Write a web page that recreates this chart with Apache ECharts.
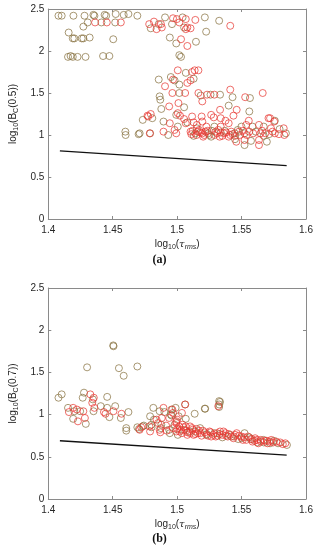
<!DOCTYPE html>
<html><head><meta charset="utf-8">
<script src="https://cdn.jsdelivr.net/npm/echarts@6/dist/echarts.min.js"></script>
<style>html,body{margin:0;padding:0;background:#fff}#c{width:319px;height:550px}</style>
</head><body><div id="c"></div>
<script>
// ---- data (a): log10(tau_rms) vs log10(Bc(0.5))
var topOlive = [
[1.4079,2.42],[1.4104,2.42],[1.4195,2.42],[1.4281,2.42],[1.4350,2.43],[1.4358,2.42],[1.4437,2.43],[1.4449,2.42],[1.4523,2.44],[1.4585,2.43],[1.4622,2.44],[1.4691,2.42],
[1.4158,2.22],[1.4190,2.15],[1.4202,2.15],[1.4259,2.15],[1.4272,2.15],[1.4321,2.16],[1.4504,2.14],
[1.4153,1.93],[1.4173,1.94],[1.4190,1.93],[1.4227,1.93],[1.4289,1.93],[1.4425,1.94],[1.4474,1.94],
[1.4272,2.29],[1.4306,2.34],[1.4412,2.34],[1.4519,2.34],
[1.4906,2.40],[1.5042,2.40],[1.5215,2.40],[1.5326,2.36],[1.4795,2.27],[1.4857,2.32],[1.4960,2.32],[1.5054,2.28],[1.5225,2.23],
[1.4943,2.16],[1.4993,2.09],[1.5146,2.11],[1.5017,1.95],[1.5030,1.93],
[1.4857,1.66],[1.4951,1.69],[1.4980,1.65],[1.5067,1.74],[1.5128,1.67],[1.5017,1.60],
[1.4864,1.46],[1.4869,1.42],[1.5017,1.50],[1.5183,1.47],[1.5259,1.48],[1.5333,1.48],[1.5430,1.45],[1.5565,1.44],
[1.4877,1.31],[1.5054,1.33],[1.4993,1.24],[1.5400,1.35],[1.5560,1.28],[1.5758,1.17],[1.4733,1.18],[1.4807,1.20],
[1.4598,1.04],[1.4600,1.00],[1.4701,1.01],[1.4790,1.02],[1.4894,1.16],[1.5005,1.10],[1.5079,1.15],[1.5153,1.08],[1.5289,1.10],
[1.5499,1.10],[1.5585,1.10],[1.5672,1.10],[1.5795,1.07],[1.5844,1.02],[1.4709,1.02],[1.4931,1.00],[1.5141,1.02],[1.5240,1.02],
[1.5338,1.03],[1.5447,1.02],[1.5523,1.02],[1.5610,1.04],[1.5714,1.01],[1.5128,0.99],[1.5264,0.98],[1.5449,0.95],[1.5573,0.93],
[1.5672,0.99],[1.5523,0.88],[1.5696,0.92],[1.5270,1.05],[1.5370,1.05],[1.5470,1.06],[1.5250,1.00],[1.5450,0.99]
];
var topRed = [
[1.4363,2.34],[1.4454,2.34],[1.4563,2.34],
[1.4968,2.39],[1.4998,2.38],[1.5067,2.38],[1.5141,2.37],[1.5412,2.30],[1.4783,2.32],[1.4820,2.35],[1.4874,2.32],[1.4840,2.26],
[1.4881,2.28],[1.5017,2.34],[1.5067,2.26],[1.5079,2.28],[1.5104,2.27],[1.5030,2.14],[1.5079,2.06],
[1.4906,1.58],[1.4968,1.66],[1.5005,1.77],[1.5116,1.75],[1.5136,1.77],[1.5165,1.77],[1.5104,1.65],[1.5079,1.62],
[1.4963,1.50],[1.5062,1.50],[1.5165,1.50],[1.5195,1.40],[1.5232,1.48],[1.5289,1.48],[1.5412,1.54],[1.5528,1.45],[1.5664,1.50],
[1.4938,1.34],[1.5010,1.38],[1.5005,1.26],[1.5333,1.30],[1.5462,1.30],[1.5721,1.20],[1.4770,1.23],[1.4795,1.25],
[1.4775,1.22],[1.5022,1.23],[1.5054,1.19],[1.5116,1.22],[1.5128,1.15],[1.5190,1.22],[1.5195,1.16],[1.5264,1.24],[1.5284,1.21],
[1.5338,1.20],[1.5375,1.17],[1.5400,1.14],[1.5437,1.23],[1.5556,1.17],[1.5709,1.20],[1.5753,1.16],
[1.4943,1.14],[1.4980,1.06],[1.5067,1.14],[1.5153,1.12],[1.5227,1.10],[1.5338,1.10],[1.5536,1.12],[1.5635,1.12],[1.5728,1.08],
[1.5827,1.08],[1.4788,1.02],[1.4894,1.04],[1.4993,1.02],[1.5104,1.04],[1.5195,1.02],[1.5289,1.00],[1.5363,1.02],[1.5412,1.00],
[1.5486,1.00],[1.5560,1.04],[1.5647,1.02],[1.5684,1.02],[1.5758,1.02],[1.5832,1.00],[1.5202,0.98],[1.5400,0.98],[1.5523,0.94],
[1.5635,0.94],[1.5459,0.92],[1.5635,0.88],[1.5120,1.05],[1.5170,1.06],[1.5220,1.04],[1.5320,1.06],[1.5420,1.04],[1.5510,1.05],
[1.5150,1.00],[1.5350,0.99],[1.5300,1.04],[1.5180,1.03],
[1.5110,1.01],[1.5160,1.04],[1.5210,1.00],[1.5235,1.05],[1.5310,1.02],[1.5330,0.98],[1.5380,1.03],[1.5430,1.01],
[1.5480,1.04],[1.5540,1.00],[1.5590,1.02],[1.5660,1.05],[1.5740,1.04],[1.5790,1.01]
];
var topLine = [[1.409,0.81],[1.585,0.635]];

// ---- data (b): log10(tau_rms) vs log10(Bc(0.7))
var botOlive = [
[1.4504,1.82],[1.4506,1.81],[1.4301,1.56],[1.4548,1.55],[1.4585,1.46],[1.4691,1.57],
[1.4079,1.20],[1.4104,1.24],[1.4277,1.26],[1.4267,1.20],[1.4346,1.18],[1.4457,1.21],
[1.4153,1.08],[1.4202,1.04],[1.4247,1.04],[1.4193,0.95],[1.4291,0.89],[1.4351,1.04],[1.4407,1.10],[1.4457,1.08],
[1.4474,0.97],[1.4519,1.10],[1.4563,0.96],[1.4622,1.03],[1.4605,0.84],[1.4605,0.81],[1.4704,0.83],[1.4741,0.87],
[1.4790,0.98],[1.4815,1.08],[1.4864,1.04],[1.4901,1.03],[1.4951,1.00],[1.4988,1.08],[1.5012,0.98],[1.5067,0.95],
[1.5136,1.01],[1.5217,1.07],[1.5333,1.15],[1.5326,1.09],[1.4802,0.85],[1.4877,0.88],[1.4938,0.82],
[1.4691,0.85],[1.4733,0.86],[1.4800,0.88],[1.4874,0.84],[1.4943,0.78],[1.4980,0.88],[1.5005,0.76],[1.5054,0.82],
[1.5096,0.80],[1.5141,0.80],[1.5178,0.84],[1.5227,0.76],[1.5289,0.78],[1.5351,0.73],[1.5412,0.76],[1.5474,0.71],
[1.5523,0.78],[1.5560,0.73],[1.5622,0.67],[1.5672,0.67],[1.5721,0.66],[1.5783,0.66],[1.5852,0.64],
[1.4820,0.94],[1.4956,0.99],[1.4956,1.06],[1.5062,1.12],[1.5215,1.07],[1.5326,1.12],[1.5326,1.16],
[1.5230,0.77],[1.5330,0.77],[1.5420,0.74],[1.5500,0.72],[1.5570,0.71],[1.5670,0.70],[1.5750,0.69]
];
var botRed = [
[1.4326,1.24],[1.4353,1.20],[1.4341,1.14],[1.4358,1.08],[1.4160,1.03],[1.4193,1.08],[1.4222,1.06],[1.4272,1.04],
[1.4230,0.92],[1.4284,0.96],[1.4432,1.03],[1.4444,1.01],[1.4506,1.04],[1.4568,1.01],[1.4721,0.85],[1.4785,0.86],
[1.4840,0.94],[1.4894,1.08],[1.4938,0.96],[1.4963,1.06],[1.5000,0.94],[1.5037,1.02],[1.5062,1.12],[1.4864,0.82],
[1.4852,0.90],[1.4914,0.87],[1.4709,0.82],[1.4790,0.80],[1.4869,0.79],[1.4919,0.81],[1.4968,0.84],[1.4993,0.80],
[1.5017,0.86],[1.5037,0.78],[1.5067,0.86],[1.5079,0.76],[1.5116,0.84],[1.5128,0.76],[1.5160,0.78],[1.5190,0.75],
[1.5215,0.79],[1.5252,0.80],[1.5264,0.74],[1.5314,0.75],[1.5333,0.80],[1.5375,0.78],[1.5393,0.74],[1.5437,0.72],
[1.5462,0.78],[1.5499,0.74],[1.5536,0.70],[1.5585,0.68],[1.5605,0.72],[1.5647,0.70],[1.5696,0.69],[1.5746,0.67],
[1.5820,0.65],[1.4881,0.96],[1.4968,1.02],[1.4993,0.90],[1.5042,0.88],[1.4993,0.92],
[1.5030,0.82],[1.5080,0.79],[1.5120,0.82],[1.5180,0.78],[1.5280,0.76],[1.5380,0.75],[1.5480,0.75],[1.5520,0.73],
[1.5620,0.70],[1.5720,0.68],[1.5770,0.68],[1.5100,0.86],[1.5150,0.83],[1.5200,0.81],[1.5260,0.79],[1.5310,0.78],
[1.5360,0.80],[1.5450,0.76],[1.5550,0.74],[1.5600,0.69],[1.5650,0.68],[1.5700,0.66],[1.5800,0.67],[1.5319,1.10],
[1.5000,0.83],[1.5020,0.80],[1.5050,0.85],[1.5070,0.81],[1.5100,0.78],[1.5140,0.77],[1.5170,0.81],[1.5240,0.75],
[1.5300,0.74],[1.5350,0.76],[1.5400,0.77],[1.5440,0.74],[1.5510,0.70],[1.5580,0.71],[1.5630,0.66],[1.5680,0.69],
[1.5730,0.70],[1.5840,0.66]
];
var botLine = [[1.409,0.69],[1.585,0.52]];

var xMin = 1.4, xMax = 1.6, xStep = 0.05;
var yMin = 0, yMax = 2.5, yStep = 0.5;
var yNames = ['(0.5))', '(0.7))'];
var panelLabels = ['(a)', '(b)'];

var FONT = 'Liberation Sans, Arial, sans-serif';
var AX = '#8a8a8a', TXT = '#262626';
var OLIVE = '#86703e', RED = '#e8352f';

var grids = [{left:36, right:13, top:9, height:210}, {left:36, right:13, top:288, height:211}];
var rich = {
  n:{fontFamily:FONT,fontSize:10,color:TXT},
  s:{fontFamily:FONT,fontSize:7,color:TXT,padding:[6,0,0,0]},
  t:{fontFamily:'DejaVu Serif, serif',fontStyle:'italic',fontSize:10,color:TXT},
  si:{fontFamily:FONT,fontStyle:'italic',fontSize:7,color:TXT,padding:[6,0,0,0]}
};
var xAxes = [], yAxes = [], series = [];
[0,1].forEach(function(g){
  xAxes.push({gridIndex:g, type:'value', min:xMin, max:xMax, interval:xStep, position:'bottom',
    axisLine:{onZero:false, lineStyle:{color:AX, width:1}},
    axisTick:{inside:true, length:3, lineStyle:{color:AX}},
    splitLine:{show:false},
    axisLabel:{color:TXT, fontFamily:FONT, fontSize:10, margin:6, formatter:function(v){return String(+v.toFixed(2));}},
    name:'{n|log}{s|10}{n|(}{t|τ}{si|rms}{n|)}', nameLocation:'middle', nameGap:19,
    nameTextStyle:{rich:rich}
  });
  xAxes.push({gridIndex:g, type:'value', min:xMin, max:xMax, interval:xStep, position:'top',
    axisLine:{onZero:false, lineStyle:{color:AX, width:1}},
    axisTick:{inside:true, length:3, lineStyle:{color:AX}},
    splitLine:{show:false}, axisLabel:{show:false}
  });
  yAxes.push({gridIndex:g, type:'value', min:yMin, max:yMax, interval:yStep, position:'left',
    axisLine:{onZero:false, lineStyle:{color:AX, width:1}},
    axisTick:{inside:true, length:3, lineStyle:{color:AX}},
    splitLine:{show:false},
    axisLabel:{color:TXT, fontFamily:FONT, fontSize:10, margin:4, formatter:function(v){return String(+v.toFixed(1));}},
    name:'{n|log}{s|10}{n|(B}{s|C}{n|' + yNames[g] + '}', nameLocation:'middle', nameGap:22, nameRotate:90,
    nameTextStyle:{rich:rich}
  });
  yAxes.push({gridIndex:g, type:'value', min:yMin, max:yMax, interval:yStep, position:'right',
    axisLine:{onZero:false, lineStyle:{color:AX, width:1}},
    axisTick:{inside:true, length:3, lineStyle:{color:AX}},
    splitLine:{show:false}, axisLabel:{show:false}
  });
});
function sc(data, idx, col){
  return {type:'scatter', xAxisIndex:idx, yAxisIndex:idx, data:data, symbol:'circle', symbolSize:7,
    itemStyle:{color:'rgba(0,0,0,0)', borderColor:col, borderWidth:0.9}, silent:true, z:3};
}
function ln(data, idx){
  return {type:'line', xAxisIndex:idx, yAxisIndex:idx, data:data, symbol:'none',
    lineStyle:{color:'#111', width:1.3}, silent:true, z:4};
}
series.push(sc(topOlive,0,OLIVE), sc(topRed,0,RED), ln(topLine,0));
series.push(sc(botOlive,2,OLIVE), sc(botRed,2,RED), ln(botLine,2));

var chart = echarts.init(document.getElementById('c'), null, {renderer:'canvas'});
chart.setOption({
  animation:false,
  backgroundColor:'#fff',
  grid:grids, xAxis:xAxes, yAxis:yAxes, series:series,
  graphic:[
    {type:'text', left:'center', top:254, style:{text:panelLabels[0], font:'bold 12px "Liberation Serif", "DejaVu Serif", serif', fill:'#111'}},
    {type:'text', left:'center', top:533, style:{text:panelLabels[1], font:'bold 12px "Liberation Serif", "DejaVu Serif", serif', fill:'#111'}}
  ]
});
</script></body></html>
